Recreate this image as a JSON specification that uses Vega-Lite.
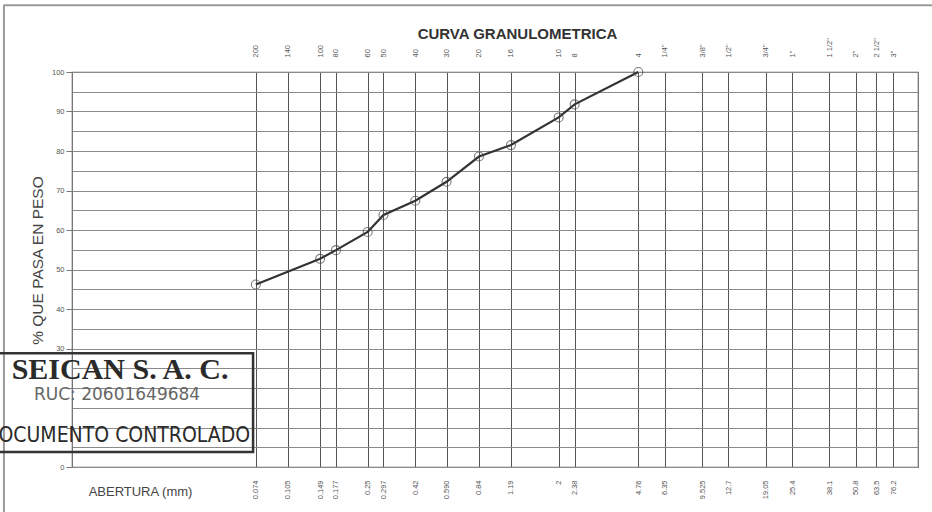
{
  "$schema": "https://vega.github.io/schema/vega-lite/v6.json",
  "width": 846,
  "height": 395,
  "autosize": {"type": "none"},
  "padding": {"left": 72, "top": 72, "right": 14, "bottom": 45},
  "background": "white",
  "config": {
    "view": {"stroke": "#666", "strokeWidth": 1.2},
    "font": "Liberation Sans"
  },
  "datasets": {
    "curve": [
      {"abertura": 0.074, "pasa": 46.2},
      {"abertura": 0.149, "pasa": 52.7},
      {"abertura": 0.177, "pasa": 54.9},
      {"abertura": 0.25, "pasa": 59.5},
      {"abertura": 0.297, "pasa": 63.8},
      {"abertura": 0.42, "pasa": 67.4},
      {"abertura": 0.59, "pasa": 72.2},
      {"abertura": 0.84, "pasa": 78.6},
      {"abertura": 1.19, "pasa": 81.5},
      {"abertura": 2.0, "pasa": 88.5},
      {"abertura": 2.38, "pasa": 91.8},
      {"abertura": 4.76, "pasa": 100}
    ],
    "frame": [
      {"x": 0.004767, "x2": 0.004767, "y": 117, "y2": -12},
      {"x": 0.004767, "x2": 120, "y": 116.9, "y2": 116.9}
    ],
    "stampbox": [
      {"x": 0.00447, "x2": 0.0718, "y": 28.8, "y2": 3.8}
    ],
    "stamp1": [{"x": 0.01687, "y": 22.3, "t": "SEICAN S. A. C."}],
    "stamp2": [{"x": 0.01633, "y": 17.0, "t": "RUC: 20601649684"}],
    "stamp3": [{"x": 0.01633, "y": 6.3, "t": "DOCUMENTO CONTROLADO"}]
  },
  "resolve": {"axis": {"x": "independent", "y": "independent"}},
  "layer": [
    {
      "data": {"name": "curve"},
      "mark": {"type": "line", "color": "#333", "strokeWidth": 2.2},
      "encoding": {
        "x": {
          "field": "abertura", "type": "quantitative",
          "scale": {"type": "log", "domain": [0.01, 100], "nice": false},
          "axis": {
            "orient": "bottom",
            "values": [0.074, 0.105, 0.149, 0.177, 0.25, 0.297, 0.42, 0.59, 0.84, 1.19, 2, 2.38, 4.76, 6.35, 9.525, 12.7, 19.05, 25.4, 38.1, 50.8, 63.5, 76.2],
            "labelExpr": "datum.value == 0.59 ? '0.590' : '' + datum.value",
            "labelAngle": 270,
            "labelAlign": "right",
            "labelBaseline": "middle",
            "labelPadding": 13,
            "labelFontSize": 7.5,
            "labelColor": "#555",
            "labelOverlap": false,
            "ticks": false,
            "domain": false,
            "grid": true,
            "gridColor": "#555",
            "gridWidth": 1,
            "title": "ABERTURA (mm)",
            "titleX": 68,
            "titleY": 31,
            "titleAlign": "center",
            "titleBaseline": "bottom",
            "titleFontSize": 13,
            "titleFontWeight": "normal",
            "titleColor": "#444"
          }
        },
        "y": {
          "field": "pasa", "type": "quantitative",
          "scale": {"domain": [0, 100], "nice": false, "zero": false},
          "axis": {
            "orient": "left",
            "values": [0, 5, 10, 15, 20, 25, 30, 35, 40, 45, 50, 55, 60, 65, 70, 75, 80, 85, 90, 95, 100],
            "labelExpr": "datum.value % 10 == 0 && datum.value != 10 && datum.value != 20 ? datum.label : ''",
            "labelFontSize": 7.5,
            "labelColor": "#555",
            "labelPadding": 2,
            "tickSize": 6,
            "tickColor": "#777",
            "tickOpacity": {"condition": {"test": "datum.value % 10 == 0", "value": 1}, "value": 0},
            "domain": false,
            "grid": true,
            "gridColor": "#8a8a8a",
            "gridWidth": 1,
            "title": "% QUE PASA EN PESO",
            "titleAngle": 270,
            "titleX": -27,
            "titleY": 188,
            "titleAlign": "center",
            "titleBaseline": "bottom",
            "titleFontSize": 15.5,
            "titleFontWeight": "normal",
            "titleColor": "#444"
          }
        }
      }
    },
    {
      "data": {"name": "curve"},
      "mark": {"type": "point", "shape": "circle", "filled": false, "size": 80, "stroke": "#444", "strokeWidth": 1.1},
      "encoding": {
        "x": {
          "field": "abertura", "type": "quantitative",
          "scale": {"type": "log", "domain": [0.01, 100], "nice": false},
          "axis": {
            "orient": "top",
            "values": [0.074, 0.105, 0.149, 0.177, 0.25, 0.297, 0.42, 0.59, 0.84, 1.19, 2, 2.38, 4.76, 6.35, 9.525, 12.7, 19.05, 25.4, 38.1, 50.8, 63.5, 76.2],
            "labelExpr": "['200','140','100','80','60','50','40','30','20','16','10','8','4','1/4\"','3/8\"','1/2\"','3/4\"','1\"','1 1/2\"','2\"','2 1/2\"','3\"'][indexof([0.074, 0.105, 0.149, 0.177, 0.25, 0.297, 0.42, 0.59, 0.84, 1.19, 2, 2.38, 4.76, 6.35, 9.525, 12.7, 19.05, 25.4, 38.1, 50.8, 63.5, 76.2], datum.value)]",
            "labelAngle": 270,
            "labelAlign": "left",
            "labelBaseline": "middle",
            "labelPadding": 15,
            "labelFontSize": 7.5,
            "labelColor": "#555",
            "labelOverlap": false,
            "ticks": false,
            "domain": false,
            "grid": false,
            "title": "CURVA GRANULOMETRICA",
            "titleX": 445,
            "titleY": -34,
            "titleAlign": "center",
            "titleBaseline": "alphabetic",
            "titleFontSize": 15,
            "titleFontWeight": "bold",
            "titleColor": "#333"
          }
        },
        "y": {"field": "pasa", "type": "quantitative", "scale": {"domain": [0, 100], "nice": false, "zero": false}, "axis": null}
      }
    },
    {
      "data": {"name": "frame"},
      "mark": {"type": "rule", "color": "#9a9a9a", "strokeWidth": 2},
      "encoding": {
        "x": {"field": "x", "type": "quantitative", "scale": {"type": "log", "domain": [0.01, 100], "nice": false}, "axis": null},
        "x2": {"field": "x2"},
        "y": {"field": "y", "type": "quantitative", "scale": {"domain": [0, 100], "nice": false, "zero": false}, "axis": null},
        "y2": {"field": "y2"}
      }
    },
    {
      "data": {"name": "stampbox"},
      "mark": {"type": "rect", "fillOpacity": 0, "stroke": "#333", "strokeWidth": 2.5},
      "encoding": {
        "x": {"field": "x", "type": "quantitative", "scale": {"type": "log", "domain": [0.01, 100], "nice": false}, "axis": null},
        "x2": {"field": "x2"},
        "y": {"field": "y", "type": "quantitative", "scale": {"domain": [0, 100], "nice": false, "zero": false}, "axis": null},
        "y2": {"field": "y2"}
      }
    },
    {
      "data": {"name": "stamp1"},
      "mark": {"type": "text", "font": "Liberation Serif", "fontWeight": "bold", "fontSize": 30, "color": "#2a2a2a", "align": "center", "baseline": "alphabetic"},
      "encoding": {
        "x": {"field": "x", "type": "quantitative", "scale": {"type": "log", "domain": [0.01, 100], "nice": false}, "axis": null},
        "y": {"field": "y", "type": "quantitative", "scale": {"domain": [0, 100], "nice": false, "zero": false}, "axis": null},
        "text": {"field": "t"}
      }
    },
    {
      "data": {"name": "stamp2"},
      "mark": {"type": "text", "font": "DejaVu Sans", "fontSize": 17, "color": "#666", "align": "center", "baseline": "alphabetic"},
      "encoding": {
        "x": {"field": "x", "type": "quantitative", "scale": {"type": "log", "domain": [0.01, 100], "nice": false}, "axis": null},
        "y": {"field": "y", "type": "quantitative", "scale": {"domain": [0, 100], "nice": false, "zero": false}, "axis": null},
        "text": {"field": "t"}
      }
    },
    {
      "data": {"name": "stamp3"},
      "mark": {"type": "text", "font": "DejaVu Sans Condensed, Liberation Sans", "fontSize": 21, "color": "#2a2a2a", "align": "center", "baseline": "alphabetic"},
      "encoding": {
        "x": {"field": "x", "type": "quantitative", "scale": {"type": "log", "domain": [0.01, 100], "nice": false}, "axis": null},
        "y": {"field": "y", "type": "quantitative", "scale": {"domain": [0, 100], "nice": false, "zero": false}, "axis": null},
        "text": {"field": "t"}
      }
    }
  ]
}
